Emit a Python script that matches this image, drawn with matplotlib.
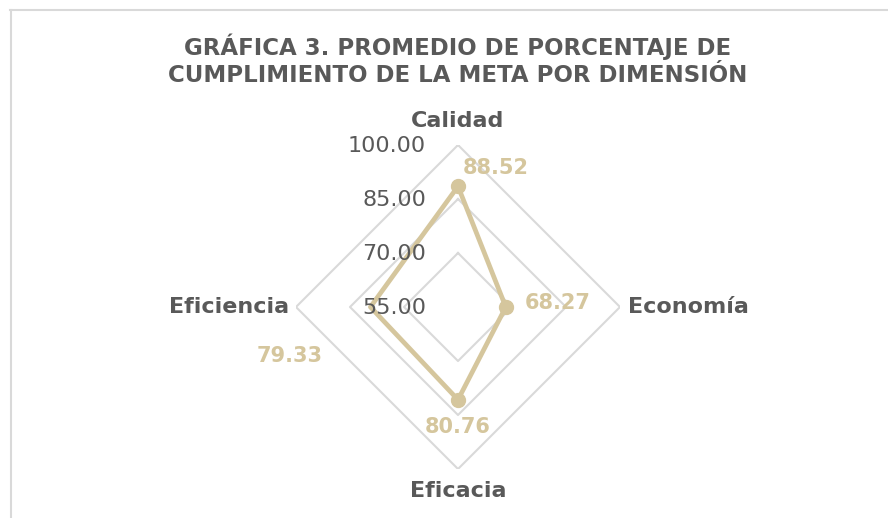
import numpy as np
import matplotlib.pyplot as plt
from matplotlib.lines import Line2D

# datos de la gráfica
dimensiones = ['Calidad', 'Economía', 'Eficacia', 'Eficiencia']
promedios = [88.52, 68.27, 80.76, 79.33]
anillos = [55, 70, 85, 100]
etiquetas_anillos = ['55.00', '70.00', '85.00', '100.00']

gris = '#595959'
dorado = '#D5C69D'
rejilla = '#D9D9D9'
fuente = 'DejaVu Sans'

W, H = 888, 518
fig = plt.figure(figsize=(W / 100, H / 100), dpi=100)

# marco gris arriba y a la izquierda
fig.add_artist(Line2D([10 / W, 1], [1 - 10 / H, 1 - 10 / H], color=rejilla, lw=1.5))
fig.add_artist(Line2D([10.5 / W, 10.5 / W], [0, 1 - 10 / H], color=rejilla, lw=1.5))

fig.text(458 / W, 1 - 47 / H, 'GRÁFICA 3. PROMEDIO DE PORCENTAJE DE', ha='center', va='center',
         fontsize=16.5, fontweight='bold', color=gris, family=fuente)
fig.text(458 / W, 1 - 76 / H, 'CUMPLIMIENTO DE LA META POR DIMENSIÓN', ha='center', va='center',
         fontsize=16.5, fontweight='bold', color=gris, family=fuente)

cx, cy, rad = 458, 307, 162
ax = fig.add_axes([(cx - rad) / W, (H - cy - rad) / H, 2 * rad / W, 2 * rad / H], polar=True)
ax.set_theta_offset(np.pi / 2)
ax.set_theta_direction(-1)
ax.set_ylim(55, 100)
ax.axis('off')

ang = np.linspace(0, 2 * np.pi, len(dimensiones), endpoint=False)
ang_c = np.append(ang, ang[0])

# anillos en forma de rombo
for r in anillos[1:]:
    ax.plot(ang_c, [r] * len(ang_c), color=rejilla, lw=1.5, zorder=1)

vals = promedios + [promedios[0]]
ax.plot(ang_c, vals, color=dorado, lw=3.4, zorder=3, solid_joinstyle='round')
ax.plot(ang[:3], promedios[:3], 'o', color=dorado, ms=10, zorder=4)

# etiquetas del eje radial
for r, t in zip(anillos, etiquetas_anillos):
    ax.annotate(t, xy=(0, r), xytext=(-23, -1), textcoords='offset points', ha='right', va='center',
                fontsize=16, color=gris, family=fuente, zorder=5)

# nombres de las dimensiones
cat_off = [(0, 17), (6, 0), (0, -16), (-5, 0)]
cat_ha = ['center', 'left', 'center', 'right']
for a, nom, off, ha in zip(ang, dimensiones, cat_off, cat_ha):
    ax.annotate(nom, xy=(a, 100), xytext=off, textcoords='offset points', ha=ha, va='center',
                fontsize=16, fontweight='bold', color=gris, family=fuente, annotation_clip=False)

# valores
val_off = [(3.6, 13), (14, 3), (0, -19.5), (-58, -35)]
val_ha = ['left', 'left', 'center', 'center']
for a, v, off, ha in zip(ang, promedios, val_off, val_ha):
    ax.annotate(f'{v:.2f}', xy=(a, v), xytext=off, textcoords='offset points', ha=ha, va='center',
                fontsize=15, fontweight='bold', color=dorado, family=fuente, annotation_clip=False)

fig.savefig('out.png', dpi=100)
